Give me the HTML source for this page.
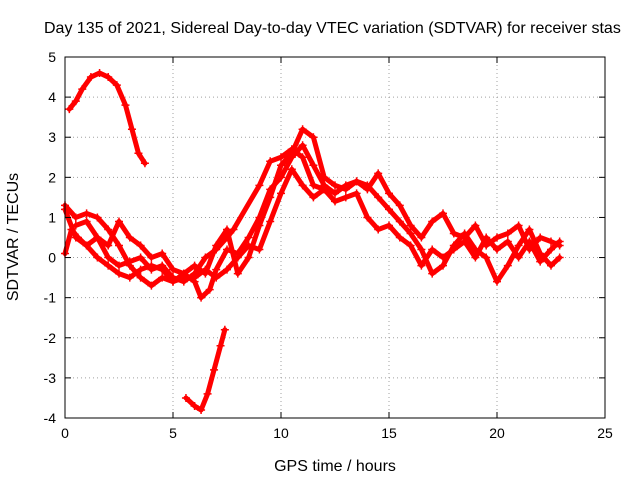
<!DOCTYPE html>
<html><head><meta charset="utf-8"><style>
body{margin:0;background:#fff;}
svg text{font-family:"Liberation Sans",sans-serif;font-size:14px;fill:#000;}
svg text.big{font-size:16px;}
</style></head><body>
<svg id="chart" width="640" height="480" viewBox="0 0 640 480" xmlns="http://www.w3.org/2000/svg">
<rect x="0" y="0" width="640" height="480" fill="#fff"/>
<g id="grid"></g>
<g id="series"></g>
<rect x="65" y="57" width="540" height="361" fill="none" stroke="#000" stroke-width="1"/>
<g id="axes"></g>
<text class="big" x="44" y="33">Day 135 of 2021, Sidereal Day-to-day VTEC variation (SDTVAR) for receiver stas</text>
<text class="big" x="335" y="471" text-anchor="middle">GPS time / hours</text>
<text class="big" transform="translate(18,237) rotate(-90)" text-anchor="middle">SDTVAR / TECUs</text>
</svg>
<script>
const xTicks=[0,5,10,15,20,25];
const yTicks=[-4,-3,-2,-1,0,1,2,3,4,5];
const trackA=[[0.2,3.7],[0.5,3.9],[0.8,4.2],[1.2,4.5],[1.6,4.6],[2.0,4.5],[2.4,4.3],[2.8,3.8],[3.1,3.2],[3.4,2.6],[3.7,2.35]];
const trackB=[[5.6,-3.5],[6.0,-3.7],[6.3,-3.8],[6.6,-3.4],[6.9,-2.8],[7.2,-2.2],[7.4,-1.8]];
const track1=[[0,1.3],[0.5,1.0],[1,1.1],[1.5,1.0],[2,0.7],[2.5,0.3],[3,-0.2],[3.5,-0.5],[4,-0.7],[4.5,-0.5],[5,-0.6],[5.5,-0.4],[6,-0.6],[6.3,-1.0],[6.7,-0.8],[7,-0.3],[7.5,0.2],[8,0.1],[8.5,0.5],[9,1.0],[9.5,1.7],[10,2.0],[10.5,2.5],[11,2.8],[11.5,2.3],[12,1.8],[12.5,1.6],[13,1.8],[13.5,1.9],[14,1.8],[14.5,1.5],[15,1.2],[15.5,0.9],[16,0.6],[16.5,0.2],[17,-0.4],[17.5,-0.2],[18,0.3],[18.5,0.6],[19,0.2],[19.5,0.0],[20,-0.6],[20.5,-0.2],[21,0.3],[21.5,0.7],[22,0.1],[22.5,-0.2],[22.9,0.0]];
const track2=[[0,0.1],[0.3,0.7],[0.6,0.5],[1,0.3],[1.5,0.5],[2,0.3],[2.5,0.9],[3,0.5],[3.5,0.3],[4,0.0],[4.5,0.1],[5,-0.3],[5.5,-0.4],[6,-0.2],[6.5,-0.4],[7,0.3],[7.5,0.7],[8,-0.4],[8.5,0.0],[9,0.8],[9.5,1.5],[10,2.3],[10.5,2.6],[11,3.2],[11.5,3.0],[12,2.0],[12.5,1.8],[13,1.7],[13.5,1.9],[14,1.7],[14.5,2.1],[15,1.6],[15.5,1.3],[16,0.8],[16.5,0.5],[17,0.9],[17.5,1.1],[18,0.6],[18.5,0.5],[19,0.8],[19.5,0.3],[20,0.5],[20.5,0.6],[21,0.8],[21.5,0.2],[22,0.5],[22.5,0.4],[22.9,0.3]];
const track3=[[0,1.2],[0.5,0.5],[1,0.3],[1.5,0.0],[2,-0.2],[2.5,-0.4],[3,-0.5],[3.5,-0.3],[4,-0.2],[4.5,-0.3],[5,-0.6],[5.5,-0.5],[6,-0.5],[6.5,-0.3],[7,-0.5],[7.5,-0.3],[8,0.0],[8.5,0.3],[9,0.2],[9.5,0.9],[10,1.6],[10.5,2.2],[11,1.8],[11.5,1.5],[12,1.7],[12.5,1.4],[13,1.5],[13.5,1.6],[14,1.0],[14.5,0.7],[15,0.8],[15.5,0.5],[16,0.3],[16.5,-0.2],[17,0.2],[17.5,0.0],[18,0.2],[18.5,0.4],[19,0.0],[19.5,0.5],[20,0.2],[20.5,0.4],[21,0.0],[21.5,0.4],[22,-0.1],[22.5,0.2],[22.9,0.4]];
const track4=[[0.5,0.8],[1,0.9],[1.5,0.5],[2,0.0],[2.5,-0.2],[3,-0.1],[3.5,0.0],[4,-0.3],[4.5,-0.2],[5,-0.5],[5.5,-0.6],[6,-0.4],[6.5,0.0],[7,0.2],[7.5,0.5],[7.8,0.7],[9,1.8],[9.5,2.4],[10,2.5],[10.5,2.7],[11,2.5],[11.5,1.8],[12,1.7]];
const tracks=[trackA,trackB,track1,track2,track3,track4];

const X0=65,X1=605,Y0=418,Y1=57;
const sx=v=>X0+(v-0)/(25-0)*(X1-X0);
const sy=v=>Y0-(v-(-4))/(5-(-4))*(Y0-Y1);
const NS="http://www.w3.org/2000/svg";
const grid=document.getElementById('grid'),axes=document.getElementById('axes'),ser=document.getElementById('series');
function mk(tag,attrs,parent){const e=document.createElementNS(NS,tag);for(const k in attrs)e.setAttribute(k,attrs[k]);parent.appendChild(e);return e;}
xTicks.forEach(t=>{
  const x=sx(t);
  if(t>0&&t<25){const g=mk('line',{x1:x,x2:x,y1:Y1,y2:Y0,stroke:'#a0a0a0','stroke-dasharray':'1,3'},grid);
  
  }
  const tk=mk('line',{x1:x,x2:x,y1:Y0,y2:Y0-6,stroke:'#000'},axes);
  
  
  const tk2=mk('line',{x1:x,x2:x,y1:Y1,y2:Y1+6,stroke:'#000'},axes);
  
  
  const l=mk('text',{x:x,y:Y0+20,'text-anchor':'middle'},axes);l.textContent=t;
  
  
});
yTicks.forEach(t=>{
  const y=sy(t);
  if(t>-4&&t<5){const g=mk('line',{x1:X0,x2:X1,y1:y,y2:y,stroke:'#a0a0a0','stroke-dasharray':'1,3'},grid);
  
  }
  const tk=mk('line',{x1:X0,x2:X0+6,y1:y,y2:y,stroke:'#000'},axes);
  
  
  const tk2=mk('line',{x1:X1,x2:X1-6,y1:y,y2:y,stroke:'#000'},axes);
  
  
  const l=mk('text',{x:X0-9,y:y+5,'text-anchor':'end'},axes);l.textContent=t;
  
  
});
tracks.forEach((tr,i)=>{
  const p=mk('polyline',{points:tr.map(d=>sx(d[0])+','+sy(d[1])).join(' '),fill:'none',stroke:'#ff0000','stroke-width':5,'stroke-linejoin':'round','stroke-linecap':'round'},ser);
  
  
  tr.forEach(d=>{
    const x=sx(d[0]),y=sy(d[1]);
    const m=mk('path',{d:`M${x-4},${y}H${x+4}M${x},${y-4}V${y+4}`,stroke:'#ff0000','stroke-width':1.5},ser);
    
    
  });
});
</script>
</body></html>
